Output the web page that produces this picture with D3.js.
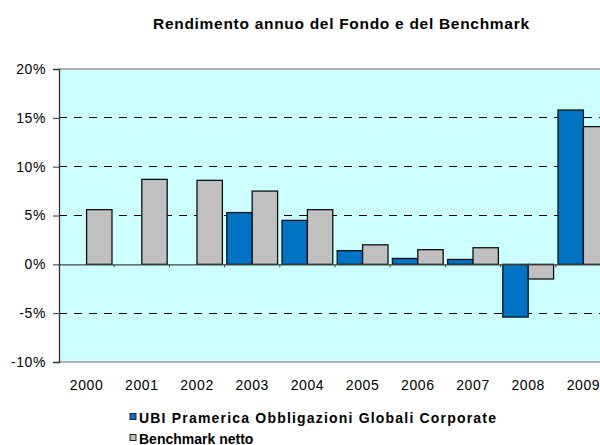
<!DOCTYPE html>
<html>
<head>
<meta charset="utf-8">
<script src="https://cdn.jsdelivr.net/npm/d3@7"></script>
<style>
  html, body { margin: 0; padding: 0; background: #fff; }
  svg { display: block; }
  svg text { font-family: "Liberation Sans", Arial, sans-serif; }
</style>
</head>
<body>
<svg id="chart" width="600" height="445"></svg>
<script>
const title = "Rendimento annuo del Fondo e del Benchmark";
const years = ["2000","2001","2002","2003","2004","2005","2006","2007","2008","2009"];
const fundValues = [null, null, null, 5.3, 4.5, 1.4, 0.6, 0.5, -5.4, 15.8];
const benchValues = [5.6, 8.7, 8.6, 7.5, 5.6, 2.0, 1.5, 1.7, -1.5, 14.1];
const seriesNames = ["UBI Pramerica Obbligazioni Globali Corporate", "Benchmark netto"];
const seriesColors = ["#0074C4", "#C0C0C0"];
const yTicks = [-10, -5, 0, 5, 10, 15, 20];

const svg = d3.select("#chart");
const plot = { left: 59, right: 611, top: 69, bottom: 362 };

const x = d3.scaleBand().domain(years).range([plot.left, plot.right]).padding(0);
const y = d3.scaleLinear().domain([-10, 20]).range([plot.bottom, plot.top]);
const sub = d3.scaleBand().domain([0, 1]).range([0, x.bandwidth()]).paddingInner(0).paddingOuter(0.087);

// title
svg.append("text")
  .attr("x", 341).attr("y", 29)
  .attr("text-anchor", "middle")
  .attr("font-size", 15.5).attr("font-weight", "bold")
  .attr("textLength", 376).attr("lengthAdjust", "spacing")
  .attr("fill", "#000")
  .text(title);

// plot background
svg.append("rect")
  .attr("x", plot.left).attr("y", plot.top)
  .attr("width", plot.right - plot.left).attr("height", plot.bottom - plot.top)
  .attr("fill", "#CCFFFF");

// gridlines
svg.append("g").selectAll("line")
  .data(yTicks.filter(d => d !== 0 && d !== 20 && d !== -10))
  .join("line")
  .attr("x1", plot.left).attr("x2", plot.right)
  .attr("y1", d => y(d)).attr("y2", d => y(d))
  .attr("stroke", "#000").attr("stroke-width", 1)
  .attr("stroke-dasharray", "8,7")
  .attr("shape-rendering", "crispEdges");

// plot border top/bottom
svg.append("line").attr("x1", plot.left).attr("x2", plot.right)
  .attr("y1", plot.top).attr("y2", plot.top)
  .attr("stroke", "#999").attr("stroke-width", 1.5);
svg.append("line").attr("x1", plot.left).attr("x2", plot.right)
  .attr("y1", plot.bottom).attr("y2", plot.bottom)
  .attr("stroke", "#999").attr("stroke-width", 1.5);

// bars
const rows = years.map((yr, i) => ({ yr, vals: [fundValues[i], benchValues[i]] }));
const groups = svg.append("g").selectAll("g").data(rows).join("g")
  .attr("transform", d => `translate(${x(d.yr)},0)`);
groups.selectAll("rect")
  .data(d => d.vals.map((v, k) => ({ v, k })).filter(e => e.v !== null))
  .join("rect")
  .attr("x", e => sub(e.k))
  .attr("width", sub.bandwidth())
  .attr("y", e => Math.min(y(e.v), y(0)))
  .attr("height", e => Math.abs(y(e.v) - y(0)))
  .attr("fill", e => seriesColors[e.k])
  .attr("stroke", "#111").attr("stroke-width", 1.3);

// x axis at zero
const xAxis = d3.axisBottom(x).tickSize(0).tickFormat("");
const xg = svg.append("g").attr("transform", `translate(0,${y(0)})`).call(xAxis);
xg.select(".domain").attr("stroke", "#444").attr("stroke-width", 1.2);
// category boundary ticks
svg.append("g").selectAll("line")
  .data(years.slice(1))
  .join("line")
  .attr("x1", d => x(d)).attr("x2", d => x(d))
  .attr("y1", y(0)).attr("y2", y(0) + 3)
  .attr("stroke", "#444").attr("stroke-width", 1);

// year labels
svg.append("g").selectAll("text")
  .data(years)
  .join("text")
  .attr("x", d => x(d) + x.bandwidth() / 2)
  .attr("y", 390)
  .attr("text-anchor", "middle")
  .attr("font-size", 14)
  .attr("letter-spacing", 0.6)
  .attr("fill", "#000")
  .text(d => d);

// y axis
const yAxis = d3.axisLeft(y).tickValues(yTicks).tickSize(6).tickPadding(7)
  .tickFormat(d => d + "%");
const yg = svg.append("g").attr("transform", `translate(${plot.left},0)`).call(yAxis);
yg.attr("font-family", null);
yg.select(".domain").attr("stroke", "#333").attr("stroke-width", 1.3);
yg.selectAll(".tick line").attr("stroke", "#333");
yg.selectAll(".tick text").attr("font-size", 14).attr("fill", "#000")
  .attr("letter-spacing", 0.6);

// legend
const legend = svg.append("g");
const legendRows = seriesNames.map((n, i) => ({ n, c: seriesColors[i], i }));
const lg = legend.selectAll("g").data(legendRows).join("g")
  .attr("transform", d => `translate(130,${422.5 + d.i * 21})`);
lg.append("rect")
  .attr("x", 0).attr("y", -9).attr("width", 6).attr("height", 6)
  .attr("fill", d => d.c).attr("stroke", "#222").attr("stroke-width", 1);
lg.append("text")
  .attr("x", 9).attr("y", 0)
  .attr("font-size", 14).attr("font-weight", "bold")
  .attr("fill", "#000")
  .attr("textLength", d => d.i === 0 ? 357 : null)
  .attr("lengthAdjust", "spacing")
  .text(d => d.n);
</script>
</body>
</html>
